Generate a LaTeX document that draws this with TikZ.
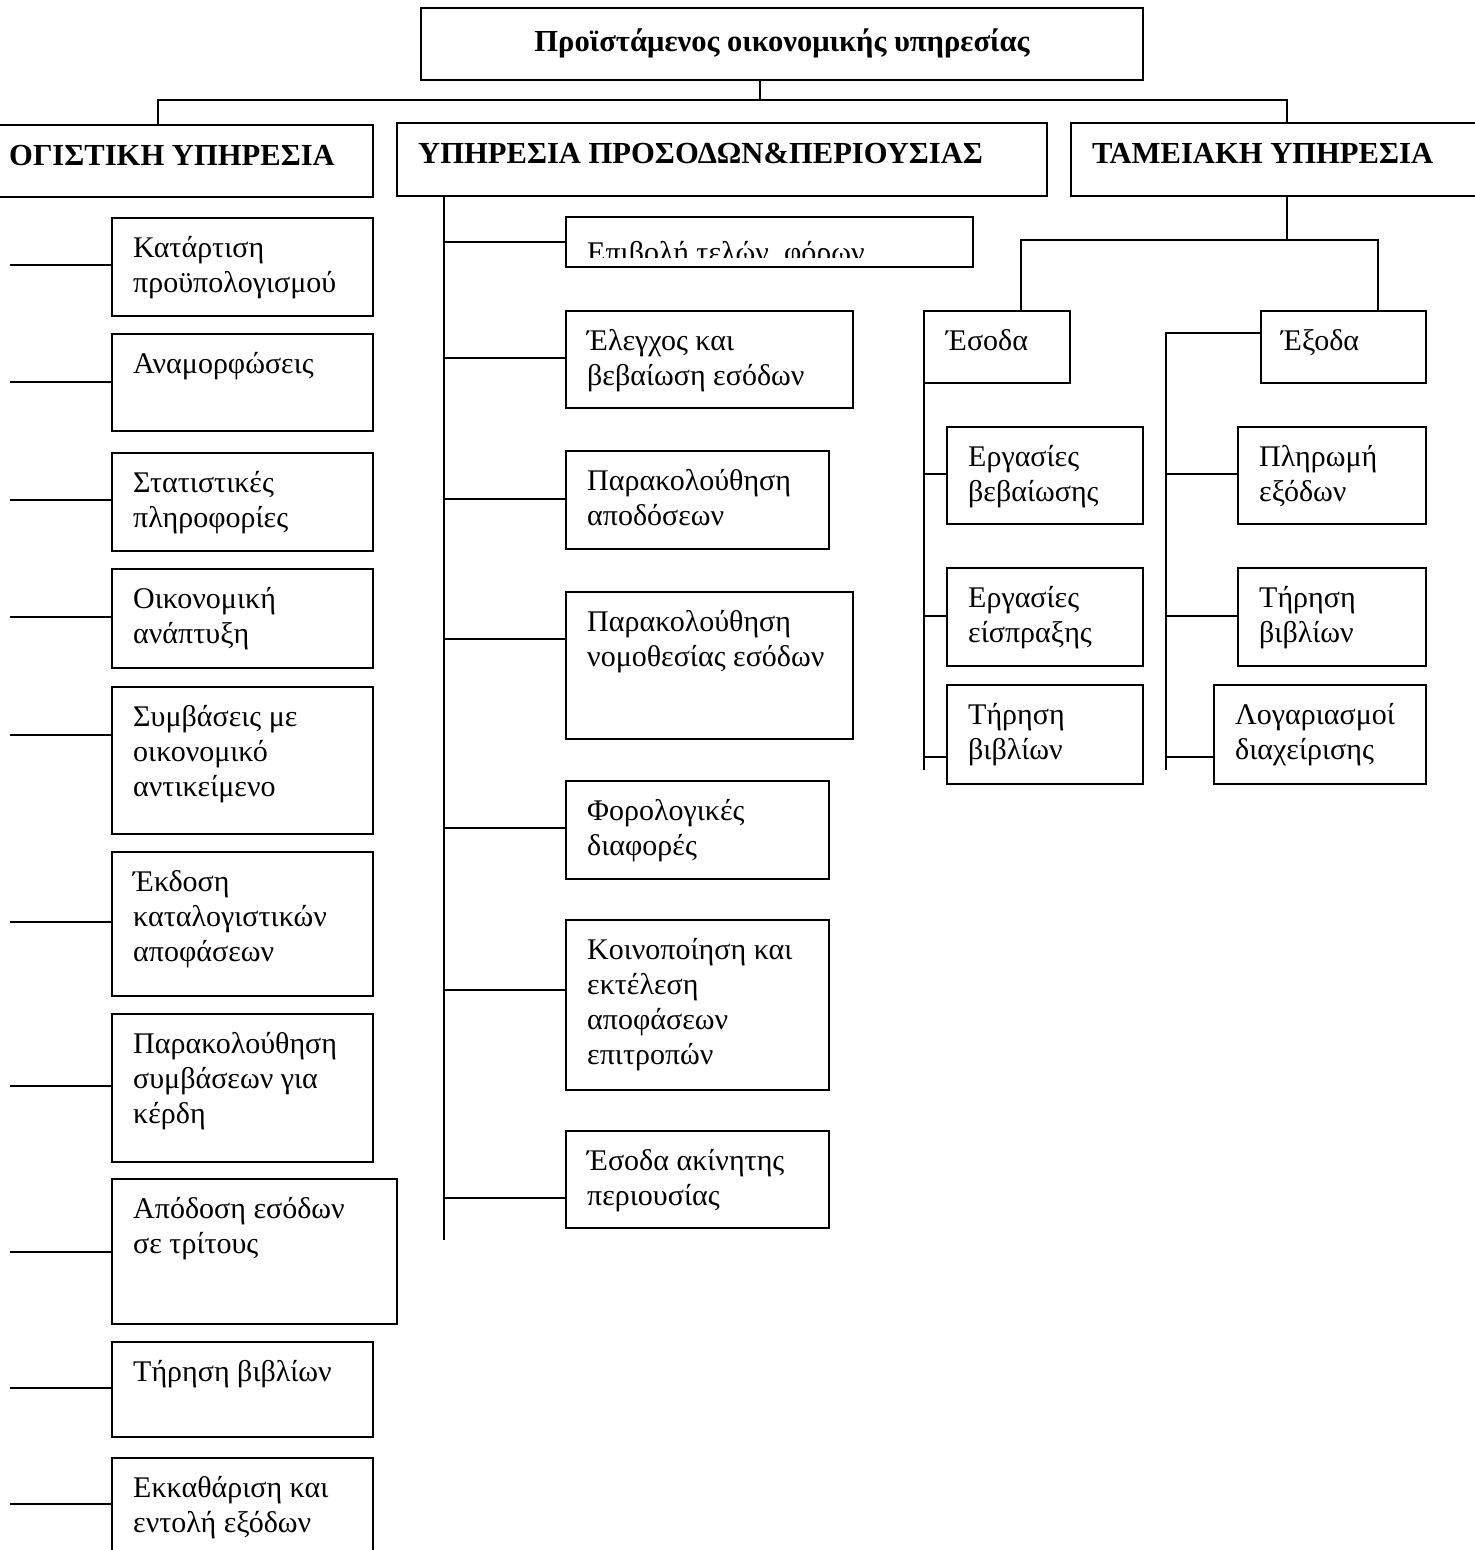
\documentclass[tikz,border=0pt]{standalone}
\usepackage{fontspec}
\setmainfont{Liberation Serif}
\usetikzlibrary{fit}

\tikzset{
  frame/.style={draw=black, line width=1.7pt, inner sep=0pt, outer sep=0pt},
  headframe/.style={draw=black, line width=2.6pt, inner sep=0pt, outer sep=0pt},
  link/.style={draw=black, line width=1.7pt},
  txt/.style={anchor=north west, align=left, inner sep=0pt, font=\fontsize{30}{35}\selectfont},
  headtxt/.style={anchor=base west, inner sep=0pt, font=\bfseries\fontsize{30.6}{36}\selectfont},
}

% a framed unit: name, x1, y1, x2, y2, text (top-left aligned)
\newcommand\unitbox[6]{%
  \node[frame, fit={(#2,#3) (#4,#5)}] (#1) {};
  \node[txt] (#1-t) at ([shift={(21,14.5)}]#1.north west) {\strut #6};
}
% horizontal branch from a vertical spine to a unit, at height y
\newcommand\twig[3]{%
  \draw[link] (#1 |- 0,#3) -- (#2.west |- 0,#3);
}

\begin{document}
\begin{tikzpicture}[x=1pt,y=-1pt]
\clip (0,0) rectangle (1475,1550);
\fill[white] (0,0) rectangle (1475,1550);

% head of the service
\node[headframe, fit={(421,8) (1143,80)}] (top) {};
\node[anchor=base, inner sep=0pt, font=\bfseries\fontsize{30.6}{36}\selectfont] (top-t) at (782,51) {Προϊστάμενος οικονομικής υπηρεσίας};

% the three departments
\node[headframe, fit={(-20,125) (373,197)}] (hL) {};
\node[headtxt] (hL-t) at (9,165) {ΟΓΙΣΤΙΚΗ ΥΠΗΡΕΣΙΑ};
\node[headframe, fit={(397,123) (1047,196)}] (hM) {};
\node[headtxt] (hM-t) at (418,163) {ΥΠΗΡΕΣΙΑ ΠΡΟΣΟΔΩΝ\&ΠΕΡΙΟΥΣΙΑΣ};
\node[headframe, fit={(1071,123) (1500,196)}] (hR) {};
\node[headtxt] (hR-t) at (1092,163) {ΤΑΜΕΙΑΚΗ ΥΠΗΡΕΣΙΑ};

\coordinate (stem) at (760,80);
\coordinate (hL-in) at (158,125);
\coordinate (hR-in) at (1287,123);
\draw[link] (stem) -- (stem |- 0,100);
\draw[link] (hL-in) |- (hR-in |- 0,100) -- (hR-in);

% accounting department
\unitbox{L1}{112}{218}{373}{316}{Κατάρτιση\\προϋπολογισμού}
\unitbox{L2}{112}{334}{373}{431}{Αναμορφώσεις}
\unitbox{L3}{112}{453}{373}{551}{Στατιστικές\\πληροφορίες}
\unitbox{L4}{112}{569}{373}{668}{Οικονομική\\ανάπτυξη}
\unitbox{L5}{112}{687}{373}{834}{Συμβάσεις με\\οικονομικό\\αντικείμενο}
\unitbox{L6}{112}{852}{373}{996}{Έκδοση\\καταλογιστικών\\αποφάσεων}
\unitbox{L7}{112}{1014}{373}{1162}{Παρακολούθηση\\συμβάσεων για\\κέρδη}
\unitbox{L8}{112}{1179}{397}{1324}{Απόδοση εσόδων\\σε τρίτους}
\unitbox{L9}{112}{1342}{373}{1437}{Τήρηση βιβλίων}
\unitbox{L10}{112}{1458}{373}{1575}{Εκκαθάριση και\\εντολή εξόδων}

\coordinate (lx) at (10,0);
\twig{lx}{L1}{265}
\twig{lx}{L2}{382}
\twig{lx}{L3}{500}
\twig{lx}{L4}{617}
\twig{lx}{L5}{735}
\twig{lx}{L6}{922}
\twig{lx}{L7}{1086}
\twig{lx}{L8}{1252}
\twig{lx}{L9}{1388}
\twig{lx}{L10}{1504}

% revenue and property department
\node[frame, fit={(566,217) (973,267)}] (M1) {};
\begin{scope}
  \clip (566,217) rectangle (973,257);
  \node[txt] (M1-t) at ([shift={(21,21)}]M1.north west) {\strut Επιβολή τελών, φόρων};
\end{scope}
\unitbox{M2}{566}{311}{853}{408}{Έλεγχος και\\βεβαίωση εσόδων}
\unitbox{M3}{566}{451}{829}{549}{Παρακολούθηση\\αποδόσεων}
\unitbox{M4}{566}{592}{853}{739}{Παρακολούθηση\\νομοθεσίας εσόδων}
\unitbox{M5}{566}{781}{829}{879}{Φορολογικές\\διαφορές}
\unitbox{M6}{566}{920}{829}{1090}{Κοινοποίηση και\\εκτέλεση\\αποφάσεων\\επιτροπών}
\unitbox{M7}{566}{1131}{829}{1228}{Έσοδα ακίνητης\\περιουσίας}

\coordinate (mS) at (444,196);
\coordinate (mE) at (444,1240);
\draw[link] (mS) -- (mE);
\twig{mS}{M1}{242}
\twig{mS}{M2}{358}
\twig{mS}{M3}{499}
\twig{mS}{M4}{639}
\twig{mS}{M5}{828}
\twig{mS}{M6}{990}
\twig{mS}{M7}{1198}

% treasury department
\node[frame, fit={(924,311) (1070,383)}] (Esoda) {};
\node[txt] (Esoda-t) at ([shift={(22,14.5)}]Esoda.north west) {\strut Έσοδα};
\node[frame, fit={(1261,311) (1426,383)}] (Exoda) {};
\node[txt] (Exoda-t) at ([shift={(20,14.5)}]Exoda.north west) {\strut Έξοδα};

\coordinate (rS) at (1287,196);
\coordinate (es-in) at (1021,311);
\coordinate (ex-in) at (1378,311);
\draw[link] (rS) -- (rS |- 0,240);
\draw[link] (es-in) |- (ex-in |- 0,240) -- (ex-in);

\unitbox{R1}{947}{427}{1143}{524}{Εργασίες\\βεβαίωσης}
\unitbox{R2}{947}{568}{1143}{666}{Εργασίες\\είσπραξης}
\unitbox{R3}{947}{685}{1143}{784}{Τήρηση\\βιβλίων}
\unitbox{R4}{1238}{427}{1426}{524}{Πληρωμή\\εξόδων}
\unitbox{R5}{1238}{568}{1426}{666}{Τήρηση\\βιβλίων}
\unitbox{R6}{1214}{685}{1426}{784}{Λογαριασμοί\\διαχείρισης}

\coordinate (esS) at (924,383);
\coordinate (esE) at (924,770);
\draw[link] (esS) -- (esE);
\twig{esE}{R1}{474}
\twig{esE}{R2}{616}
\twig{esE}{R3}{757}

\coordinate (exH) at (1261,333);
\coordinate (exE) at (1166,770);
\draw[link] (exH) -| (exE);
\twig{exE}{R4}{474}
\twig{exE}{R5}{616}
\twig{exE}{R6}{757}
\end{tikzpicture}
\end{document}
